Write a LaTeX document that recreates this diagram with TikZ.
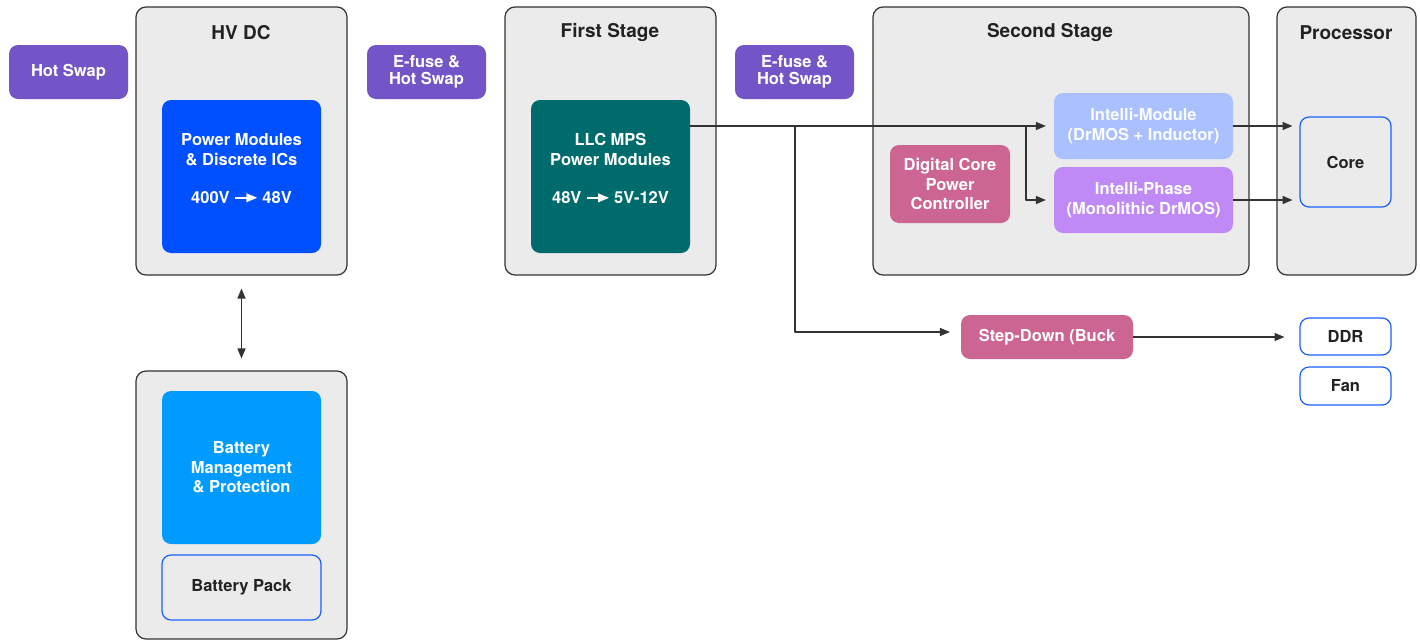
\documentclass[tikz,border=0pt]{standalone}
\usepackage{fontspec}
\setmainfont{TeX Gyre Heros}
\usepackage{tikz}
\usetikzlibrary{arrows}
\usetikzlibrary{positioning}
\definecolor{swappurple}{HTML}{7455C7}
\definecolor{stagegray}{HTML}{EBEBEB}
\definecolor{edgegray}{HTML}{333333}
\definecolor{modblue}{HTML}{0050FF}
\definecolor{bmsblue}{HTML}{009BFF}
\definecolor{llcteal}{HTML}{006B6C}
\definecolor{ctrlpink}{HTML}{CC6591}
\definecolor{imodblue}{HTML}{AAC0FF}
\definecolor{iphaselav}{HTML}{BF8AF6}
\definecolor{loadblue}{HTML}{1A5EFF}
\definecolor{inkdark}{HTML}{222222}
\newcommand{\voltarrow}{\tikz[x=1pt,y=1pt,baseline=-6pt]\draw[white,line width=1.5pt,-triangle 45] (0,0) -- (22,0);}

\begin{document}
\begin{tikzpicture}[x=1pt,y=-1pt,>=triangle 45,line join=round,
  stagebox/.style={draw=edgegray,line width=1.2pt,fill=stagegray,rounded corners=10pt,inner sep=0pt},
  block/.style={rounded corners=9pt,inner sep=0pt,align=center,text=white,
    font=\fontsize{16.5}{19.5}\selectfont\bfseries},
  swapbox/.style={block,fill=swappurple,minimum width=119pt,minimum height=54pt,
    font=\fontsize{16.5}{17}\selectfont\bfseries},
  loadbox/.style={block,draw=loadblue,line width=1.2pt,text=inkdark,minimum width=91pt},
  title/.style={font=\fontsize{19}{22}\selectfont\bfseries,text=inkdark},
  wire/.style={draw=edgegray,line width=1.3pt}]
\useasboundingbox[fill=white] (0,0) rectangle (1420,640);
% containers
\node[stagebox,minimum width=211pt,minimum height=268pt] (hvdc) at (241.5,141) {};
\node[stagebox,minimum width=211pt,minimum height=268pt] (battsys) at (241.5,505) {};
\node[stagebox,minimum width=211pt,minimum height=268pt] (firststage) at (610.5,141) {};
\node[stagebox,minimum width=376pt,minimum height=268pt] (secondstage) at (1061,141) {};
\node[stagebox,minimum width=139pt,minimum height=268pt] (proc) at (1346.5,141) {};
\node[title] (hvdctitle) at (241,32.5) {HV DC};
\node[title] (firsttitle) at (610,32.5) {First Stage};
\node[title] (secondtitle) at (1050,32.5) {Second Stage};
\node[title] (proctitle) at (1346,32.5) {Processor};
% swap / fuse blocks
\node[swapbox] (hotswap) at (68.5,72) {Hot Swap};
\node[swapbox] (efuseA) at (426.5,72) {E-fuse \&\\Hot Swap};
\node[swapbox] (efuseB) at (794.5,72) {E-fuse \&\\Hot Swap};
% converters
\node[block,fill=modblue,minimum width=159pt,minimum height=153pt] (pmod) at (241.5,176.5)
  {Power Modules\\\& Discrete ICs\\[19pt]400V \voltarrow{} 48V\\[-4pt]\mbox{}};
\node[block,fill=llcteal,minimum width=159pt,minimum height=153pt] (llc) at (610.5,176.5)
  {LLC MPS\\Power Modules\\[19pt]48V \voltarrow{} 5V-12V\\[-4pt]\mbox{}};
\node[block,fill=bmsblue,minimum width=159pt,minimum height=153pt] (bms) at (241.5,467.5)
  {Battery\\Management\\\& Protection};
\node[loadbox,fill=stagegray,minimum width=159pt,minimum height=65pt] (battpack) at (241.5,587.5) {Battery Pack};
\node[block,fill=ctrlpink,minimum width=120pt,minimum height=78pt] (dcpc) at (950,184)
  {Digital Core\\Power\\Controller};
\node[block,fill=imodblue,text=white!95!imodblue,minimum width=179pt,minimum height=66pt] (imod) at (1143.5,126)
  {Intelli-Module\\(DrMOS + Inductor)};
\node[block,fill=iphaselav,minimum width=179pt,minimum height=66pt] (iphase) at (1143.5,200)
  {Intelli-Phase\\(Monolithic DrMOS)};
\node[block,fill=ctrlpink,minimum width=172pt,minimum height=44pt] (buck) at (1047,337) {Step-Down (Buck};
% loads
\node[loadbox,fill=stagegray,minimum height=90pt] (core) at (1345.5,162) {Core};
\node[loadbox,fill=white,minimum height=37pt] (ddr) at (1345.5,336.5) {DDR};
\node[loadbox,fill=white,minimum height=38pt] (fan) at (1345.5,386) {Fan};
% connectors
\coordinate (split) at (795,126);
\coordinate (fork) at (1026,126);
\draw[wire,->,shorten >=8pt] (llc.east |- imod.west) -- (imod.west);
\draw[wire,->,shorten >=8pt] (fork) |- (iphase.west);
\draw[wire,->,shorten >=11pt] (split) |- ([yshift=5pt]buck.west);
\draw[wire,->,shorten >=7pt] (imod.east) -- (imod.east -| core.west);
\draw[wire,->,shorten >=7pt] (iphase.east) -- (iphase.east -| core.west);
\draw[wire,->,shorten >=15pt] (buck.east) -- (buck.east -| ddr.west);
\draw[wire,<->,shorten >=12pt,shorten <=13pt] (hvdc.south) -- (battsys.north);
\end{tikzpicture}
\end{document}
